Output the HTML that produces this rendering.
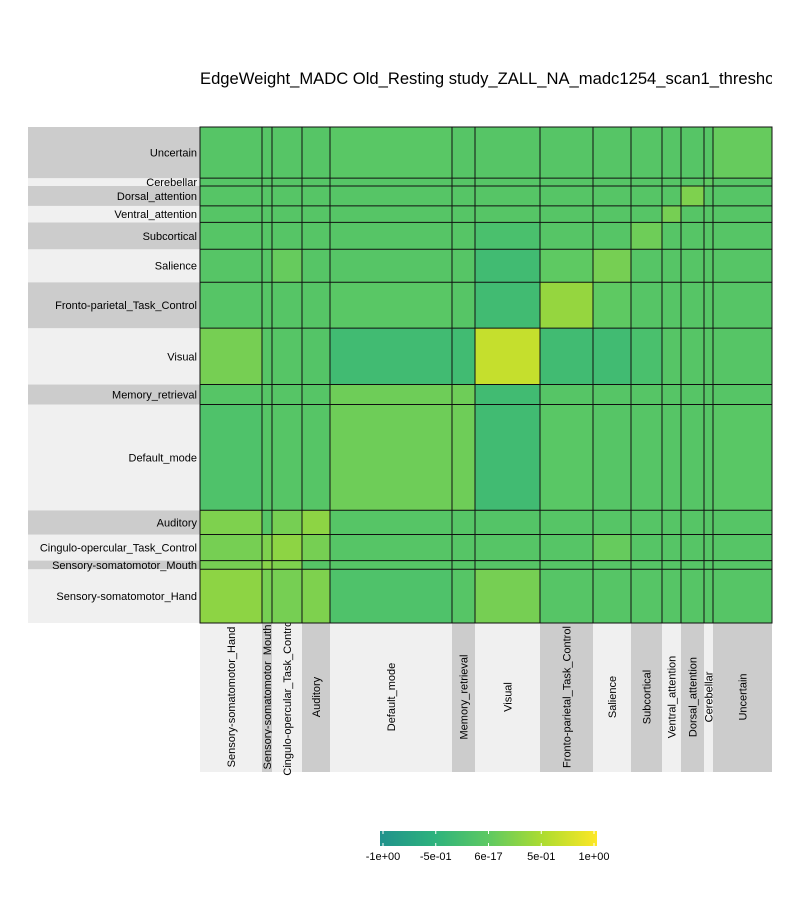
<!DOCTYPE html>
<html><head><meta charset="utf-8"><style>
body{margin:0;background:#fff;font-family:"Liberation Sans",sans-serif}
svg text{font-family:"Liberation Sans",sans-serif}
</style></head><body>
<svg id="c" width="800" height="900" xmlns="http://www.w3.org/2000/svg">
<defs><clipPath id="tc"><rect x="0" y="0" width="772" height="120"/></clipPath>
<linearGradient id="cb" x1="0" x2="1" y1="0" y2="0">
<stop offset="0" stop-color="#20928c"/><stop offset="0.25" stop-color="#2db27d"/><stop offset="0.5" stop-color="#5ec962"/><stop offset="0.75" stop-color="#addc30"/><stop offset="1" stop-color="#fde725"/></linearGradient></defs>
<text x="200" y="84" font-size="16.6" clip-path="url(#tc)">EdgeWeight_MADC Old_Resting study_ZALL_NA_madc1254_scan1_threshold</text>
<g id="bands"></g><g id="cells"></g><g id="grid"></g>
<rect x="380" y="831" width="217" height="15" fill="url(#cb)"/>
<g id="cbl" font-size="11" text-anchor="middle"></g>
</svg>
<script>
const modules=["Sensory-somatomotor_Hand","Sensory-somatomotor_Mouth","Cingulo-opercular_Task_Control","Auditory","Default_mode","Memory_retrieval","Visual","Fronto-parietal_Task_Control","Salience","Subcortical","Ventral_attention","Dorsal_attention","Cerebellar","Uncertain"];
const sizes=[62,10,30,28,122,23,65,53,38,31,19,23,9,59];
const diagVals=[0.3,0.25,0.3,0.3,0.1,0.1,0.65,0.35,0.15,0.1,0.15,0.2,0.0,0.05];
const pairVals=[[0,3,0.2],[0,2,0.15],[0,1,0.15],[1,2,0.2],[2,3,0.15],[0,4,-0.15],[0,6,0.15],[4,5,0.1],[4,6,-0.3],[5,6,-0.3],[6,7,-0.3],[6,8,-0.3],[6,9,-0.2],[4,7,-0.05],[7,8,0.0],[3,6,-0.1],[4,13,-0.05],[2,8,0.05]];
const baseVal=-0.08;
const cbTicks=[-1,-0.5,0,0.5,1];
const cbLabels=["-1e+00","-5e-01","6e-17","5e-01","1e+00"];
const NS="http://www.w3.org/2000/svg";
const X0=200,X1=772,Y0=127,Y1=623;
const N=sizes.reduce((a,b)=>a+b,0);
const n=modules.length;
const M=[];for(let i=0;i<n;i++){M.push([]);for(let j=0;j<n;j++)M[i].push(i===j?diagVals[i]:baseVal);}
pairVals.forEach(p=>{M[p[0]][p[1]]=p[2];M[p[1]][p[0]]=p[2];});
const stops=["#20928c","#2db27d","#5ec962","#addc30","#fde725"].map(h=>[parseInt(h.slice(1,3),16),parseInt(h.slice(3,5),16),parseInt(h.slice(5,7),16)]);
function col(v){let t=(Math.max(-1,Math.min(1,v))+1)/2*4;let i=Math.min(3,Math.floor(t)),f=t-i;const a=stops[i],b=stops[i+1];return `rgb(${a.map((c,k)=>Math.round(c+(b[k]-c)*f)).join(',')})`;}
const cum=[0];sizes.forEach(s=>cum.push(cum[cum.length-1]+s));
const xs=k=>X0+(X1-X0)*cum[k]/N;
const ys=k=>Y1-(Y1-Y0)*cum[k]/N;
function mk(tag,attrs,parent){const e=document.createElementNS(NS,tag);for(const k in attrs)e.setAttribute(k,attrs[k]);parent.appendChild(e);return e;}
const cells=document.getElementById('cells'),bands=document.getElementById('bands'),grid=document.getElementById('grid');
for(let i=0;i<n;i++)for(let j=0;j<n;j++){
 const r=mk('rect',{x:xs(j),y:ys(i+1),width:xs(j+1)-xs(j),height:ys(i)-ys(i+1),fill:col(M[i][j])},cells);
 
 
}
for(let k=0;k<n;k++){
 const fill=(k%2===0)?"#f0f0f0":"#cccccc";
 const b1=mk('rect',{x:28,y:ys(k+1),width:172,height:ys(k)-ys(k+1),fill:fill},bands);
 
 
 const t1=mk('text',{x:197,y:(ys(k)+ys(k+1))/2+4,'font-size':11,'text-anchor':'end'},bands);t1.textContent=modules[k];
 
 
 const b2=mk('rect',{x:xs(k),y:623,width:xs(k+1)-xs(k),height:149,fill:fill},bands);
 
 
 const cx=(xs(k)+xs(k+1))/2+4;
 const t2=mk('text',{x:cx,y:697,'font-size':11,'text-anchor':'middle',transform:`rotate(-90 ${cx} 697)`},bands);t2.textContent=modules[k];
 
 
}
for(let k=1;k<n;k++){
 mk('line',{x1:xs(k),x2:xs(k),y1:Y0,y2:Y1,stroke:'#111','stroke-width':1},grid);
 mk('line',{x1:X0,x2:X1,y1:ys(k),y2:ys(k),stroke:'#111','stroke-width':1},grid);
}
mk('rect',{x:X0,y:Y0,width:X1-X0,height:Y1-Y0,fill:'none',stroke:'#111','stroke-width':1},grid);
const cbl=document.getElementById('cbl');
cbTicks.forEach((v,i)=>{const x=383+(v+1)/2*211;
 mk('line',{x1:x,x2:x,y1:831,y2:834,stroke:'#fff'},cbl);mk('line',{x1:x,x2:x,y1:843,y2:846,stroke:'#fff'},cbl);
 const t=mk('text',{x:x,y:860},cbl);t.textContent=cbLabels[i];
 
 
});
</script>
</body></html>
